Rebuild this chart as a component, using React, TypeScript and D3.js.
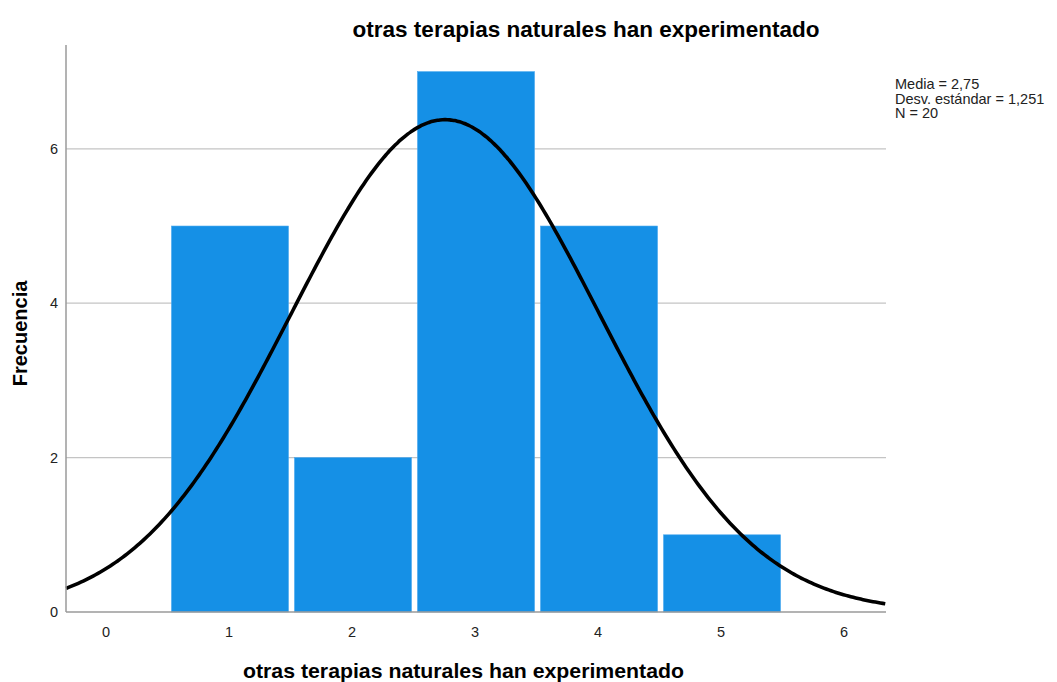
import React from "react";
import * as d3 from "d3";

const categories = [1, 2, 3, 4, 5];
const frequencies = [5, 2, 7, 5, 1];
const xTicks = [0, 1, 2, 3, 4, 5, 6];
const yTicks = [0, 2, 4, 6];
const mean = 2.75;
const sd = 1.251;
const n = 20;
const title = "otras terapias naturales han experimentado";
const yLabel = "Frecuencia";
const statsLines = ["Media = 2,75", "Desv. estándar = 1,251", "N = 20"];

const W = 1057;
const H = 682;
const left = 66;
const right = 886;
const top = 45;
const bottom = 612;

export default function App() {
  const x = d3.scaleLinear().domain([-0.333, 6.333]).range([left, right]);
  const y = d3.scaleLinear().domain([0, 7.345]).range([bottom, top]);
  const pdf = (v: number) =>
    (n * 1 * Math.exp(-((v - mean) ** 2) / (2 * sd * sd))) / (sd * Math.sqrt(2 * Math.PI));
  const pts = d3.range(-0.333, 6.3331, 0.02).map((v) => [v, pdf(v)] as [number, number]);
  const line = d3
    .line<[number, number]>()
    .x((d) => x(d[0]))
    .y((d) => y(d[1]))
    .curve(d3.curveBasis);
  const font = "'Liberation Sans', Arial, sans-serif";
  return (
    <svg width={W} height={H} style={{ position: "absolute", left: 0, top: 0 }} fontFamily={font}>
      <rect width={W} height={H} fill="#fff" />
      <text x={586} y={37} textAnchor="middle" fontSize={22.5} fontWeight="bold" fill="#000" textLength={467} lengthAdjust="spacingAndGlyphs">
        {title}
      </text>
      {yTicks
        .filter((t) => t > 0)
        .map((t) => (
          <line key={t} x1={left} x2={right} y1={y(t)} y2={y(t)} stroke="#c4c4c4" strokeWidth={1.3} />
        ))}
      {categories.map((c, i) => (
        <rect
          key={c}
          x={x(c - 0.5) + 3}
          width={x(c + 0.5) - x(c - 0.5) - 6}
          y={y(frequencies[i])}
          height={bottom - y(frequencies[i])}
          fill="#1590e6"
          stroke="#4aa8ee"
          strokeWidth={0.6}
        />
      ))}
      <path d={line(pts) || ""} fill="none" stroke="#000" strokeWidth={3.6} />
      <line x1={left} x2={left} y1={top} y2={bottom} stroke="#9a9a9a" strokeWidth={1.5} />
      <line x1={left} x2={right} y1={bottom} y2={bottom} stroke="#9a9a9a" strokeWidth={1.5} />
      {yTicks.map((t) => (
        <text key={t} x={58} y={y(t) + 5} textAnchor="end" fontSize={14.5} fill="#222">
          {t}
        </text>
      ))}
      {xTicks.map((t) => (
        <text key={t} x={x(t) - 1} y={637} textAnchor="middle" fontSize={14.5} fill="#222">
          {t}
        </text>
      ))}
      <text x={463.5} y={678} textAnchor="middle" fontSize={21} fontWeight="bold" fill="#000" textLength={441} lengthAdjust="spacingAndGlyphs">
        {title}
      </text>
      <text
        transform={`translate(27,${333.5}) rotate(-90)`}
        textAnchor="middle"
        fontSize={20}
        fontWeight="bold"
        fill="#000"
      >
        {yLabel}
      </text>
      {statsLines.map((s, i) => (
        <text key={s} x={895} y={89 + i * 14.5} fontSize={14.5} fill="#222">
          {s}
        </text>
      ))}
    </svg>
  );
}
